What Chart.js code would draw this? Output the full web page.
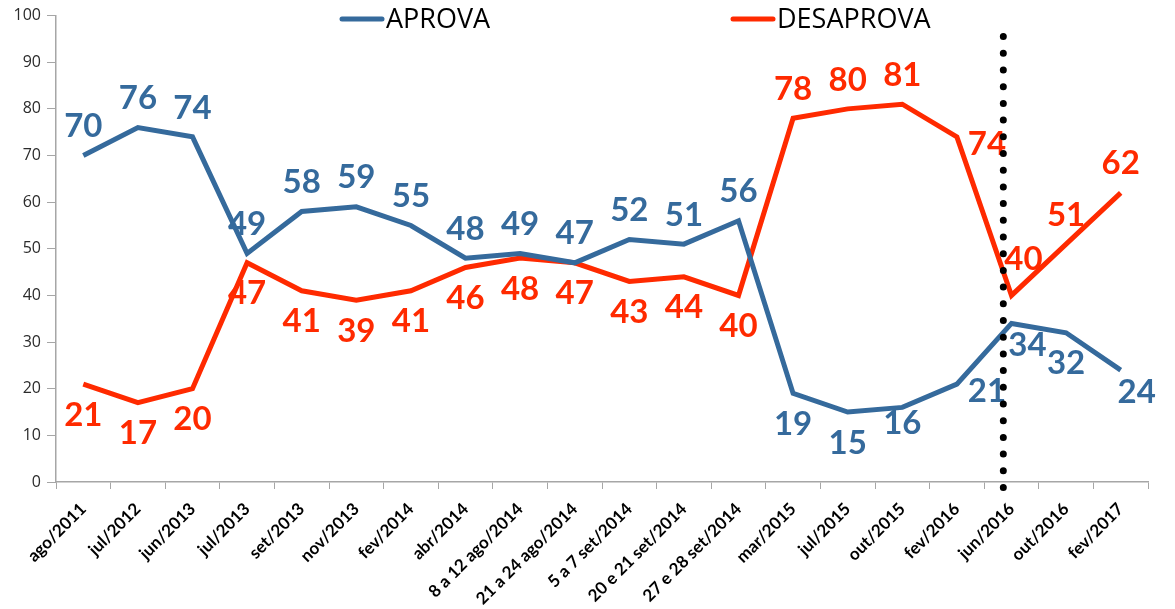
<!DOCTYPE html>
<html>
<head>
<meta charset="utf-8">
<script src="https://cdn.jsdelivr.net/npm/chart.js@4"></script>
<style>
	html, body { margin: 0; padding: 0; background: #fff; }
	#wrap { width: 1175px; height: 609px; }
</style>
</head>
<body>
<div id="wrap"><canvas id="approvalChart"></canvas></div>
<script>
let periods = ['ago/2011', 'jul/2012', 'jun/2013', 'jul/2013', 'set/2013', 'nov/2013', 'fev/2014', 'abr/2014',
	'8 a 12 ago/2014', '21 a 24 ago/2014', '5 a 7 set/2014', '20 e 21 set/2014', '27 e 28 set/2014',
	'mar/2015', 'jul/2015', 'out/2015', 'fev/2016', 'jun/2016', 'out/2016', 'fev/2017'];
let aprova = [70, 76, 74, 49, 58, 59, 55, 48, 49, 47, 52, 51, 56, 19, 15, 16, 21, 34, 32, 24];
let desaprova = [21, 17, 20, 47, 41, 39, 41, 46, 48, 47, 43, 44, 40, 78, 80, 81, 74, 40, 51, 62];
let yTicks = [0, 10, 20, 30, 40, 50, 60, 70, 80, 90, 100];
let markerIndex = 17; // dotted line before jun/2016

// where each value label sits: t = above, b = below, r = right, br / tr = diagonal
let aprovaPlace = ['t','t','t','t','t','t','t','t','t','t','t','t','t','b','b','bs','r','br','b','br'];
let desaprovaPlace = ['b','b','b','b','b','b','b','b','b','b','b','b','b','t','t','t','r','tr','t','t'];

const BLUE = '#356a9c';
const RED = '#ff2a00';

let offsets = {
	t: [0, -29],
	b: [0, 31],
	bs: [0, 16],
	r: [30, 7],
	br: [16, 22],
	tr: [12, -36]
};

let valueLabels = {
	id: 'valueLabels',
	afterDatasetsDraw(chart) {
		let ctx = chart.ctx;
		ctx.save();
		ctx.font = 'bold 33px Lato';
		ctx.textAlign = 'center';
		ctx.textBaseline = 'middle';
		chart.data.datasets.forEach((ds, i) => {
			let meta = chart.getDatasetMeta(i);
			ctx.fillStyle = ds.borderColor;
			meta.data.forEach((pt, j) => {
				let off = offsets[ds.place[j]];
				ctx.fillText(ds.data[j], pt.x + off[0], pt.y + off[1]);
			});
		});
		ctx.restore();
	}
};

let dottedMarker = {
	id: 'dottedMarker',
	afterDatasetsDraw(chart) {
		let x = chart.scales.x;
		let y = chart.scales.y;
		let step = x.getPixelForValue(1) - x.getPixelForValue(0);
		let px = x.getPixelForValue(markerIndex) - step * 0.15;
		let ctx = chart.ctx;
		ctx.save();
		ctx.strokeStyle = '#000';
		ctx.lineWidth = 7;
		ctx.lineCap = 'round';
		ctx.setLineDash([0, 16.7]);
		ctx.beginPath();
		ctx.moveTo(px, y.getPixelForValue(95.5));
		ctx.lineTo(px, y.bottom + 8);
		ctx.stroke();
		ctx.restore();
	}
};

let topLegend = {
	id: 'topLegend',
	afterDraw(chart) {
		let ctx = chart.ctx;
		let items = [
			{ text: 'APROVA', color: BLUE, x: 342 },
			{ text: 'DESAPROVA', color: RED, x: 733 }
		];
		ctx.save();
		ctx.font = '27px "Liberation Sans Narrow", "Open Sans"';
		ctx.textBaseline = 'middle';
		items.forEach((it) => {
			ctx.strokeStyle = it.color;
			ctx.lineWidth = 5;
			ctx.lineCap = 'round';
			ctx.beginPath();
			ctx.moveTo(it.x, 19);
			ctx.lineTo(it.x + 40, 19);
			ctx.stroke();
			ctx.fillStyle = '#000';
			ctx.fillText(it.text, it.x + 44, 20);
		});
		ctx.restore();
	}
};

let chart = new Chart(document.getElementById('approvalChart'), {
	type: 'line',
	data: {
		labels: periods,
		datasets: [
			{
				label: 'APROVA',
				data: aprova,
				place: aprovaPlace,
				borderColor: BLUE,
				backgroundColor: BLUE,
				borderWidth: 5,
				pointRadius: 0,
				tension: 0
			},
			{
				label: 'DESAPROVA',
				data: desaprova,
				place: desaprovaPlace,
				borderColor: RED,
				backgroundColor: RED,
				borderWidth: 5,
				pointRadius: 0,
				tension: 0
			}
		]
	},
	options: {
		responsive: true,
		maintainAspectRatio: false,
		animation: false,
		layout: {
			padding: { top: 14, right: 27, left: 0, bottom: 0 }
		},
		plugins: {
			legend: { display: false },
			tooltip: { enabled: false }
		},
		scales: {
			x: {
				offset: true,
				grid: {
					offset: true,
					drawOnChartArea: false,
					drawTicks: true,
					tickLength: 7,
					color: '#a6a6a6'
				},
				border: { color: '#a6a6a6', width: 1.5 },
				ticks: {
					autoSkip: false,
					minRotation: 45,
					maxRotation: 45,
					color: '#000',
					padding: 10,
					font: { family: 'Lato', size: 17, weight: 'bold' }
				},
				afterFit(scale) { scale.height = 127; }
			},
			y: {
				min: 0,
				max: 100,
				afterBuildTicks(scale) { scale.ticks = yTicks.map(v => ({ value: v })); },
				grid: {
					drawOnChartArea: false,
					drawTicks: true,
					tickLength: 9,
					color: '#a6a6a6'
				},
				border: { color: '#a6a6a6', width: 1.5 },
				ticks: {
					color: '#2b2b2b',
					padding: 6,
					font: { family: 'Open Sans', size: 16 }
				},
				afterFit(scale) { scale.width = 56; }
			}
		}
	},
	plugins: [valueLabels, dottedMarker, topLegend]
});
</script>
</body>
</html>
